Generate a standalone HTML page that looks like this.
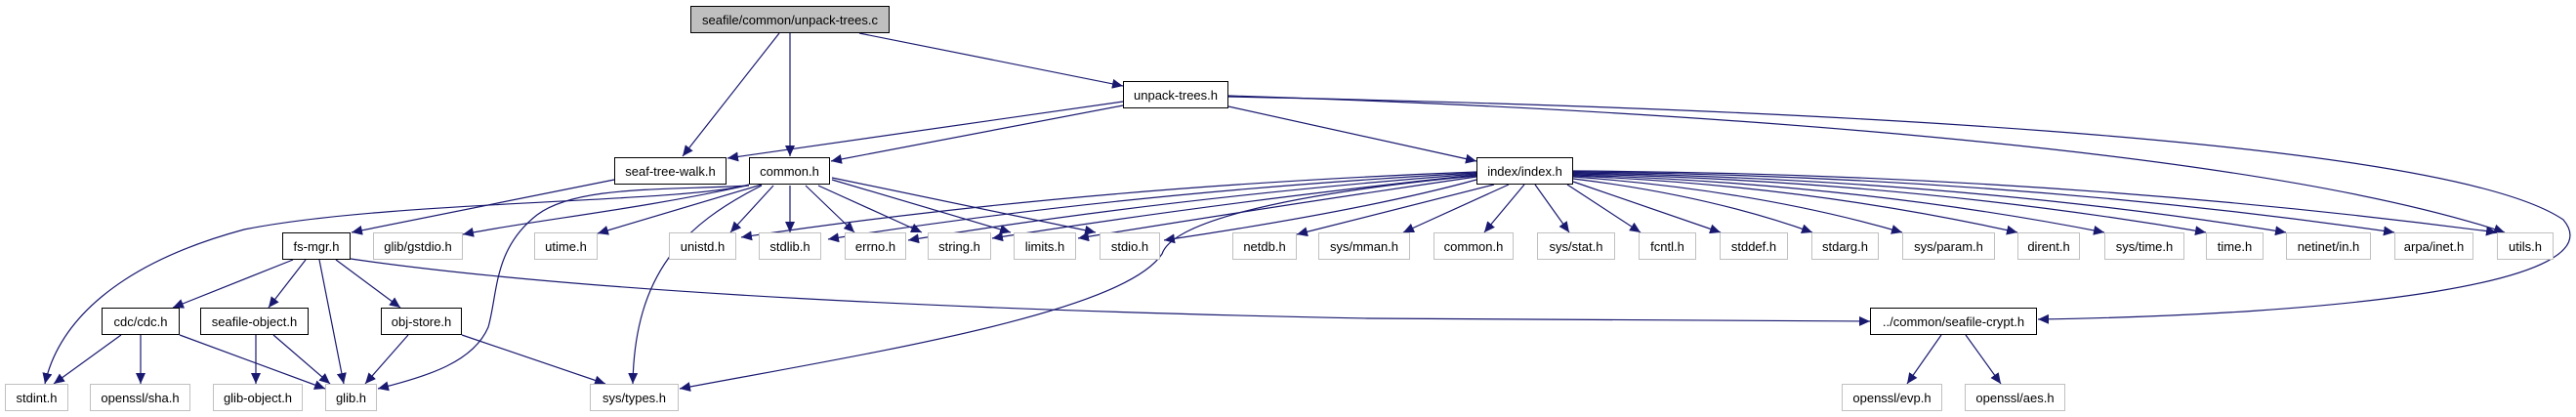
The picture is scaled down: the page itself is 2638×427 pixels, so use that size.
<!DOCTYPE html>
<html><head><meta charset="utf-8"><style>
html,body{margin:0;padding:0;background:#fff;}
#c{position:relative;width:2638px;height:427px;overflow:hidden;}
svg{position:absolute;left:0;top:0;}
.n{position:absolute;box-sizing:border-box;border:1px solid #000;background:#fff;display:flex;align-items:center;justify-content:center;font-family:"Liberation Sans",sans-serif;font-size:13px;color:#000;white-space:nowrap;}
.g{border:1px solid #c0c0c0;}
.r{background:#bfbfbf;}
</style></head><body><div id="c">
<svg width="2638" height="427" viewBox="0 0 2638 427">
<defs><marker id="a" markerUnits="userSpaceOnUse" markerWidth="12" markerHeight="10" refX="11" refY="5" orient="auto"><path d="M0,0 L11,5 L0,10 z" fill="#191970"/></marker></defs>
<g fill="none" stroke="#191970" stroke-width="1.2" marker-end="url(#a)">
<path d="M798,34 L699,160"/>
<path d="M809,34 L809,160"/>
<path d="M880,34 L1150,88"/>
<path d="M1150,104 L745,162"/>
<path d="M1150,108 L851,165"/>
<path d="M1258,109 L1512,165"/>
<path d="M1258,98 C1700,112 2300,150 2565,238"/>
<path d="M1258,99 C1800,110 2500,140 2625,225 C2680,290 2400,322 2087,327"/>
<path d="M629,184 L360,238"/>
<path d="M767,189 C700,208 400,205 250,235 C120,270 60,330 46,393"/>
<path d="M767,190 C680,195 590,190 550,220 C505,255 510,300 500,335 C485,370 440,385 387,398"/>
<path d="M765,190 C650,215 550,225 474,240"/>
<path d="M780,189 L612,239"/>
<path d="M780,190 C700,230 650,280 648,393"/>
<path d="M792,190 L748,238"/>
<path d="M809,190 L809,238"/>
<path d="M825,190 L875,238"/>
<path d="M838,190 L944,238"/>
<path d="M852,184 L1035,238"/>
<path d="M852,182 L1122,238"/>
<path d="M1512,180 C1300,200 1200,230 1190,260 C1150,320 900,360 696,398"/>
<path d="M1512,176 Q1100,192 759,243"/>
<path d="M1512,177 Q1150,197 848,245"/>
<path d="M1512,178 Q1200,202 930,246"/>
<path d="M1512,179 Q1250,207 1016,244"/>
<path d="M1512,181 Q1300,212 1104,244"/>
<path d="M1512,184 Q1400,215 1192,246"/>
<path d="M1530,189 L1328,240"/>
<path d="M1545,189 L1437,238"/>
<path d="M1561,189 L1520,238"/>
<path d="M1572,189 L1607,238"/>
<path d="M1605,189 L1680,238"/>
<path d="M1611,186 L1762,238"/>
<path d="M1611,183 Q1750,200 1856,238"/>
<path d="M1611,181 Q1800,195 1948,238"/>
<path d="M1611,180 Q1850,190 2066,238"/>
<path d="M1611,179 Q1900,188 2155,238"/>
<path d="M1611,178 Q1950,185 2259,238"/>
<path d="M1611,177 Q2000,183 2341,238"/>
<path d="M1611,176 Q2050,180 2452,238"/>
<path d="M1611,175 Q2100,178 2557,238"/>
<path d="M300,266 L177,315"/>
<path d="M313,266 L275,315"/>
<path d="M327,266 L352,393"/>
<path d="M344,266 L410,315"/>
<path d="M359,265 C600,300 1000,318 1400,326 L1915,329"/>
<path d="M124,343 L55,393"/>
<path d="M144,343 L144,393"/>
<path d="M184,343 L333,398"/>
<path d="M262,343 L262,393"/>
<path d="M280,343 L338,393"/>
<path d="M418,343 L374,393"/>
<path d="M473,343 L620,393"/>
<path d="M1988,343 L1953,393"/>
<path d="M2013,343 L2049,393"/>
</g></svg>
<div class="n r" style="left:707px;top:6px;width:204px;height:28px">seafile/common/unpack-trees.c</div>
<div class="n" style="left:1150px;top:83px;width:108px;height:28px">unpack-trees.h</div>
<div class="n" style="left:629px;top:161px;width:115px;height:28px">seaf-tree-walk.h</div>
<div class="n" style="left:767px;top:161px;width:83px;height:28px">common.h</div>
<div class="n" style="left:1512px;top:161px;width:99px;height:28px">index/index.h</div>
<div class="n" style="left:289px;top:238px;width:70px;height:28px">fs-mgr.h</div>
<div class="n g" style="left:382px;top:238px;width:92px;height:28px">glib/gstdio.h</div>
<div class="n g" style="left:547px;top:238px;width:65px;height:28px">utime.h</div>
<div class="n g" style="left:685px;top:238px;width:69px;height:28px">unistd.h</div>
<div class="n g" style="left:777px;top:238px;width:64px;height:28px">stdlib.h</div>
<div class="n g" style="left:865px;top:238px;width:63px;height:28px">errno.h</div>
<div class="n g" style="left:950px;top:238px;width:65px;height:28px">string.h</div>
<div class="n g" style="left:1038px;top:238px;width:64px;height:28px">limits.h</div>
<div class="n g" style="left:1126px;top:238px;width:62px;height:28px">stdio.h</div>
<div class="n g" style="left:1262px;top:238px;width:66px;height:28px">netdb.h</div>
<div class="n g" style="left:1350px;top:238px;width:94px;height:28px">sys/mman.h</div>
<div class="n g" style="left:1468px;top:238px;width:82px;height:28px">common.h</div>
<div class="n g" style="left:1574px;top:238px;width:80px;height:28px">sys/stat.h</div>
<div class="n g" style="left:1678px;top:238px;width:59px;height:28px">fcntl.h</div>
<div class="n g" style="left:1761px;top:238px;width:70px;height:28px">stddef.h</div>
<div class="n g" style="left:1855px;top:238px;width:69px;height:28px">stdarg.h</div>
<div class="n g" style="left:1948px;top:238px;width:95px;height:28px">sys/param.h</div>
<div class="n g" style="left:2066px;top:238px;width:64px;height:28px">dirent.h</div>
<div class="n g" style="left:2155px;top:238px;width:82px;height:28px">sys/time.h</div>
<div class="n g" style="left:2259px;top:238px;width:59px;height:28px">time.h</div>
<div class="n g" style="left:2341px;top:238px;width:87px;height:28px">netinet/in.h</div>
<div class="n g" style="left:2452px;top:238px;width:81px;height:28px">arpa/inet.h</div>
<div class="n g" style="left:2557px;top:238px;width:58px;height:28px">utils.h</div>
<div class="n" style="left:104px;top:315px;width:80px;height:28px">cdc/cdc.h</div>
<div class="n" style="left:205px;top:315px;width:111px;height:28px">seafile-object.h</div>
<div class="n" style="left:390px;top:315px;width:83px;height:28px">obj-store.h</div>
<div class="n" style="left:1915px;top:315px;width:171px;height:28px">../common/seafile-crypt.h</div>
<div class="n g" style="left:5px;top:393px;width:65px;height:28px">stdint.h</div>
<div class="n g" style="left:92px;top:393px;width:103px;height:28px">openssl/sha.h</div>
<div class="n g" style="left:218px;top:393px;width:92px;height:28px">glib-object.h</div>
<div class="n g" style="left:333px;top:393px;width:53px;height:28px">glib.h</div>
<div class="n g" style="left:604px;top:393px;width:91px;height:28px">sys/types.h</div>
<div class="n g" style="left:1886px;top:393px;width:103px;height:28px">openssl/evp.h</div>
<div class="n g" style="left:2012px;top:393px;width:103px;height:28px">openssl/aes.h</div>
</div></body></html>
